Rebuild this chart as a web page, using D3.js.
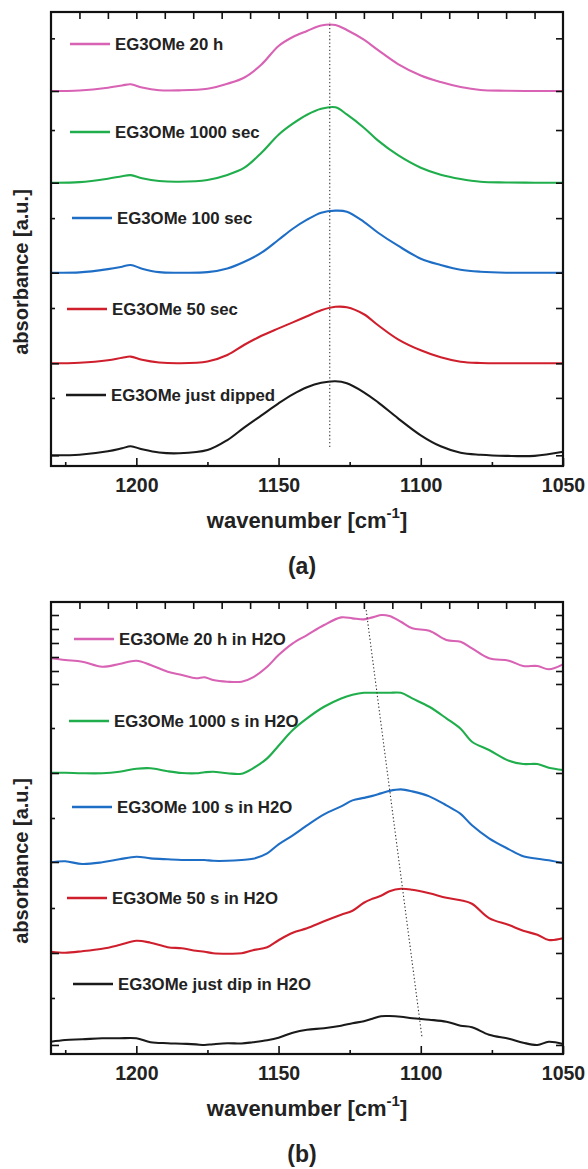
<!DOCTYPE html>
<html>
<head>
<meta charset="utf-8">
<script src="https://cdn.jsdelivr.net/npm/d3@7"></script>
<style>
body { margin: 0; background: #fff; }
text { font-family: "Liberation Sans", Arial, sans-serif; font-weight: bold; fill: #222; }
</style>
</head>
<body>
<svg id="fig" width="588" height="1169"></svg>
<script>
// ---- panel (a): EG3OMe in air ----
const wnA = [1230,1220,1210,1205,1202,1198,1192,1185,1175,1168,1162,1156,1150,1145,1140,1135,1130,1126,1120,1115,1108,1100,1093,1086,1079,1070,1060,1050];

const aJustDipped = [0,0.006,0.044,0.077,0.099,0.066,0.030,0.022,0.058,0.168,0.308,0.440,0.572,0.671,0.749,0.798,0.815,0.793,0.694,0.583,0.407,0.220,0.099,0.028,0.006,-0.006,-0.006,0.039];
const a50sec = [0,0.006,0.033,0.061,0.074,0.039,0.009,0,0.019,0.091,0.204,0.303,0.385,0.451,0.518,0.584,0.622,0.617,0.540,0.419,0.264,0.143,0.066,0.017,0.003,0,0,0];
const a100sec = [0,0.003,0.039,0.066,0.085,0.044,0.006,0,0.006,0.047,0.121,0.220,0.363,0.484,0.584,0.661,0.683,0.672,0.560,0.440,0.297,0.154,0.085,0.033,0.011,0,0,0];
const a1000sec = [0,0.006,0.044,0.072,0.083,0.050,0.019,0.011,0.030,0.085,0.165,0.330,0.529,0.650,0.749,0.815,0.831,0.752,0.606,0.463,0.303,0.165,0.088,0.041,0.011,0.003,0,0];
const a20h = [0,0.006,0.036,0.061,0.074,0.039,0.009,0.007,0.025,0.080,0.149,0.292,0.496,0.595,0.661,0.722,0.727,0.672,0.565,0.450,0.297,0.171,0.099,0.044,0.011,0.003,0,0];

const namesA = ["EG3OMe just dipped","EG3OMe 50 sec","EG3OMe 100 sec","EG3OMe 1000 sec","EG3OMe 20 h"];
const offsetsA = [0.118,1.131,2.129,3.120,4.130];
const minorTicksA = [0.75,1.74,2.73,3.70,4.71];
const markerA = [[1132,0.21],[1132,4.89]];

// ---- panel (b): EG3OMe in H2O ----
const wnB = [1230,1225,1219,1212,1206,1200,1195,1189,1184,1179,1176,1173,1168,1163,1159,1154,1150,1145,1140,1134,1128,1124,1120,1117,1114,1111,1107,1103,1097,1091,1086,1082,1076,1069,1064,1059,1055,1050];

const bJustDip = [0,0.038,0.053,0.075,0.075,0.075,-0.011,-0.033,-0.044,-0.060,-0.073,-0.055,-0.033,-0.040,-0.011,0.033,0.088,0.199,0.265,0.298,0.354,0.409,0.453,0.508,0.564,0.568,0.553,0.519,0.486,0.442,0.354,0.320,0.155,0.066,-0.022,-0.073,0,-0.051];
const b50s = [0,-0.022,0.011,0.066,0.148,0.243,0.199,0.099,0.075,0.022,0,-0.033,-0.044,-0.035,0.033,0.099,0.254,0.420,0.519,0.674,0.818,0.906,1.083,1.171,1.238,1.337,1.392,1.370,1.293,1.193,1.138,1.061,0.743,0.590,0.464,0.376,0.259,0.296];
const b100s = [0,0.022,-0.038,0,0.066,0.124,0.088,0.066,0.051,0.051,0.051,0.033,0.033,0.051,0.077,0.199,0.398,0.597,0.818,1.061,1.238,1.370,1.425,1.470,1.525,1.580,1.613,1.569,1.459,1.260,1.072,0.818,0.530,0.287,0.133,0.077,0.044,-0.022];
const b1000s = [0,0,-0.011,-0.011,0.022,0.088,0.100,0.033,-0.007,-0.013,0.011,0.022,-0.011,-0.022,0.097,0.318,0.597,0.944,1.202,1.459,1.644,1.724,1.768,1.768,1.768,1.768,1.768,1.644,1.459,1.202,0.972,0.685,0.502,0.265,0.192,0.192,0.111,0.060];
const b20h = [0,-0.038,-0.075,-0.186,-0.126,-0.053,-0.148,-0.296,-0.369,-0.442,-0.420,-0.480,-0.517,-0.517,-0.420,-0.186,0.073,0.332,0.515,0.736,0.906,0.884,0.862,0.906,0.957,0.935,0.809,0.663,0.610,0.404,0.367,0.221,0,-0.053,-0.170,-0.170,-0.243,-0.133];

const namesB = ["EG3OMe just dip in H2O","EG3OMe 50 s in H2O","EG3OMe 100 s in H2O","EG3OMe 1000 s in H2O","EG3OMe 20 h in H2O"];
const offsetsB = [0.272,2.263,4.241,6.223,8.754];
const majorTicksB = [0.2,2.235,4.248,6.217,8.186,8.473,8.783,9.093,9.403,9.712];
const minorTicksB = [1.239,3.23,5.221,7.212];
const markerB = [[1119.2,9.82],[1099.6,0.38]];

const xMajor = [1200,1150,1100,1050];
const xMinor = [1225,1175,1125,1075];
const xTop = d3.range(1220,1050,-10);
const colors = ["#1a1a1a","#cf1f2d","#1f6ec6","#1fae4b","#d862b4"];

const svg = d3.select("#fig");
const x = d3.scaleLinear().domain([1230,1050]).range([51,563]);

function panel(cfg) {
  const y = d3.scaleLinear().domain(cfg.ydom).range([cfg.bottom, cfg.top]);
  const g = svg.append("g");

  // curves
  const line = d3.line().curve(d3.curveCatmullRom.alpha(0.5));
  cfg.series.forEach(function(vals, i){
    const pts = cfg.wn.map((w, j) => [x(w), y(vals[j] + cfg.offsets[i])]);
    g.append("path")
      .attr("d", line(pts))
      .attr("fill", "none")
      .attr("stroke", colors[i])
      .attr("stroke-width", 2.1)
      .attr("stroke-linejoin", "round");
  });

  // dotted guide
  g.append("line")
    .attr("x1", x(cfg.marker[0][0])).attr("y1", y(cfg.marker[0][1]))
    .attr("x2", x(cfg.marker[1][0])).attr("y2", y(cfg.marker[1][1]))
    .attr("stroke", "#333").attr("stroke-width", 1.1)
    .attr("stroke-dasharray", "1.3,2.3");

  // axes
  const ax = function(gen, tx, ty){
    const a = g.append("g").attr("transform", "translate(" + tx + "," + ty + ")").call(gen);
    a.select(".domain").remove();
    a.selectAll("line").attr("stroke", "#111").attr("stroke-width", 1.6);
    return a;
  };
  const bot = ax(d3.axisBottom(x).tickValues(xMajor).tickSize(-8).tickPadding(12).tickFormat(d3.format("d")), 0, cfg.bottom);
  bot.selectAll("text").attr("font-size", 19.5).attr("fill", "#222");
  ax(d3.axisBottom(x).tickValues(xMinor).tickSize(-4).tickFormat(""), 0, cfg.bottom);
  ax(d3.axisTop(x).tickValues(xTop).tickSize(-7).tickFormat(""), 0, cfg.top);
  ax(d3.axisLeft(y).tickValues(cfg.major).tickSize(-8).tickFormat(""), 51, 0);
  ax(d3.axisLeft(y).tickValues(cfg.minor).tickSize(-4).tickFormat(""), 51, 0);
  ax(d3.axisRight(y).tickValues(cfg.major.concat(cfg.minor)).tickSize(-7).tickFormat(""), 563, 0);

  g.append("rect")
    .attr("x", 51).attr("y", cfg.top)
    .attr("width", 512).attr("height", cfg.bottom - cfg.top)
    .attr("fill", "none").attr("stroke", "#111").attr("stroke-width", 2.2);

  // legend
  cfg.names.forEach(function(name, i){
    const ly = cfg.legY[i], lx = cfg.legX[i];
    g.append("line")
      .attr("x1", lx).attr("x2", lx + 40).attr("y1", ly).attr("y2", ly)
      .attr("stroke", colors[i]).attr("stroke-width", 2.4);
    g.append("text")
      .attr("x", lx + 45).attr("y", ly).attr("dy", "0.36em")
      .attr("font-size", 16.8)
      .text(name);
  });

  // axis titles
  g.append("text")
    .attr("transform", "translate(28," + cfg.ylabelY + ") rotate(-90)")
    .attr("text-anchor", "middle")
    .attr("font-size", 20)
    .text("absorbance [a.u.]");

  const t = g.append("text")
    .attr("x", 307).attr("y", cfg.bottom + 62)
    .attr("text-anchor", "middle")
    .attr("font-size", 22);
  t.append("tspan").text("wavenumber [cm");
  t.append("tspan").attr("font-size", 15).attr("dy", -10).text("-1");
  t.append("tspan").attr("dy", 10).text("]");

  g.append("text")
    .attr("x", 302).attr("y", cfg.bottom + 108)
    .attr("text-anchor", "middle")
    .attr("font-size", 23)
    .text(cfg.tag);
}

panel({
  top: 12, bottom: 466, ydom: [0, 5],
  wn: wnA, series: [aJustDipped, a50sec, a100sec, a1000sec, a20h],
  names: namesA, offsets: offsetsA, major: offsetsA, minor: minorTicksA,
  marker: markerA, tag: "(a)", ylabelY: 272,
  legX: [66, 67, 72, 70, 70], legY: [395, 309, 218, 132, 44]
});

panel({
  top: 602, bottom: 1054, ydom: [0, 10],
  wn: wnB, series: [bJustDip, b50s, b100s, b1000s, b20h],
  names: namesB, offsets: offsetsB, major: majorTicksB, minor: minorTicksB,
  marker: markerB, tag: "(b)", ylabelY: 861,
  legX: [73, 67, 72, 69, 74], legY: [984, 898, 807, 721, 639]
});
</script>
</body>
</html>
